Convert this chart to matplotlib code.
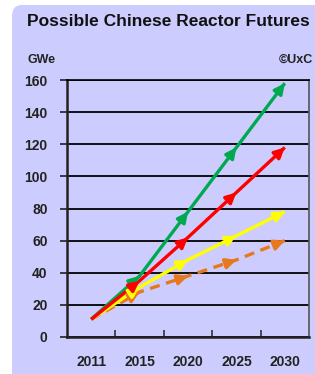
import matplotlib
matplotlib.use("Agg")
import matplotlib.pyplot as plt
from matplotlib.patches import FancyBboxPatch

plt.rcParams["font.family"] = ["Liberation Sans", "DejaVu Sans"]

years = ["2011", "2015", "2020", "2025", "2030"]
green = [11, 38, 78, 118, 158]
red = [11, 35, 62, 90, 118]
yellow = [11, 31, 48, 63, 78]
orange = [11, 28, 38, 48, 60]
yticks = [0, 20, 40, 60, 80, 100, 120, 140, 160]

PANEL = "#CCCCFF"
series = [
    (orange, "#E8781E", "--"),
    (yellow, "#FFFF00", "-"),
    (green, "#00A94F", "-"),
    (red, "#FF0000", "-"),
]

fig = plt.figure(figsize=(3.15, 3.74), dpi=100)
fig.patch.set_facecolor("white")

panel = FancyBboxPatch(
    (12 / 315, -0.05), 1.2, 1 - 5 / 374 + 0.05,
    boxstyle="round,pad=0,rounding_size=0.03",
    transform=fig.transFigure, facecolor=PANEL, edgecolor="none", zorder=-10,
)
fig.patches.append(panel)

ax = fig.add_axes([67 / 315, 37 / 374, 242 / 315, 257 / 374])
ax.set_facecolor(PANEL)

x = list(range(len(years)))
for vals, color, ls in series:
    ax.plot(x, vals, color=color, lw=2.4, ls=ls, dashes=(3, 2) if ls == "--" else (None, None),
            solid_capstyle="butt", zorder=3)
    for i in range(1, len(vals)):
        x0, y0 = x[i - 1], vals[i - 1]
        x1, y1 = x[i], vals[i]
        ax.annotate(
            "", xy=(x1, y1),
            xytext=(x1 - 0.12 * (x1 - x0), y1 - 0.12 * (y1 - y0)),
            arrowprops=dict(arrowstyle="-|>", color=color, lw=2.4,
                            mutation_scale=15, shrinkA=0, shrinkB=0),
            zorder=4,
        )

ax.set_xlim(-0.5, len(years) - 0.5)
ax.set_ylim(0, 160)
ax.set_yticks(yticks)
ax.set_yticklabels([str(v) for v in yticks], fontsize=10, fontweight="bold", color="#222222")
ax.set_xticks(x)
ax.set_xticklabels(years, fontsize=10, fontweight="bold", color="#222222")
ax.tick_params(axis="x", length=0, pad=13)
ax.set_xticks([0.5, 1.5, 2.5, 3.5], minor=True)
ax.tick_params(axis="x", which="minor", direction="in", length=5, width=1.2, color="#333333")
ax.tick_params(axis="y", direction="out", length=5, width=1.2, pad=9, color="#222222")
ax.grid(True, axis="y", color="black", lw=1.3)
ax.set_axisbelow(True)
for side in ["left", "bottom"]:
    ax.spines[side].set_linewidth(1.8)
    ax.spines[side].set_color("#222222")
ax.spines["top"].set_linewidth(1.2)
ax.spines["right"].set_linewidth(1.2)
ax.spines["right"].set_color("#555555")

fig.text(27 / 315, 1 - 22 / 374, "Possible Chinese Reactor Futures", fontsize=12.5,
         fontweight="bold", va="center", ha="left", color="#111111")
fig.text(27 / 315, 1 - 60 / 374, "GWe", fontsize=9, fontweight="bold",
         va="center", ha="left", color="#222222")
fig.text(313 / 315, 1 - 60 / 374, "\u00a9UxC", fontsize=9, fontweight="bold",
         va="center", ha="right", color="#222222")

fig.savefig("out.png", dpi=100)
